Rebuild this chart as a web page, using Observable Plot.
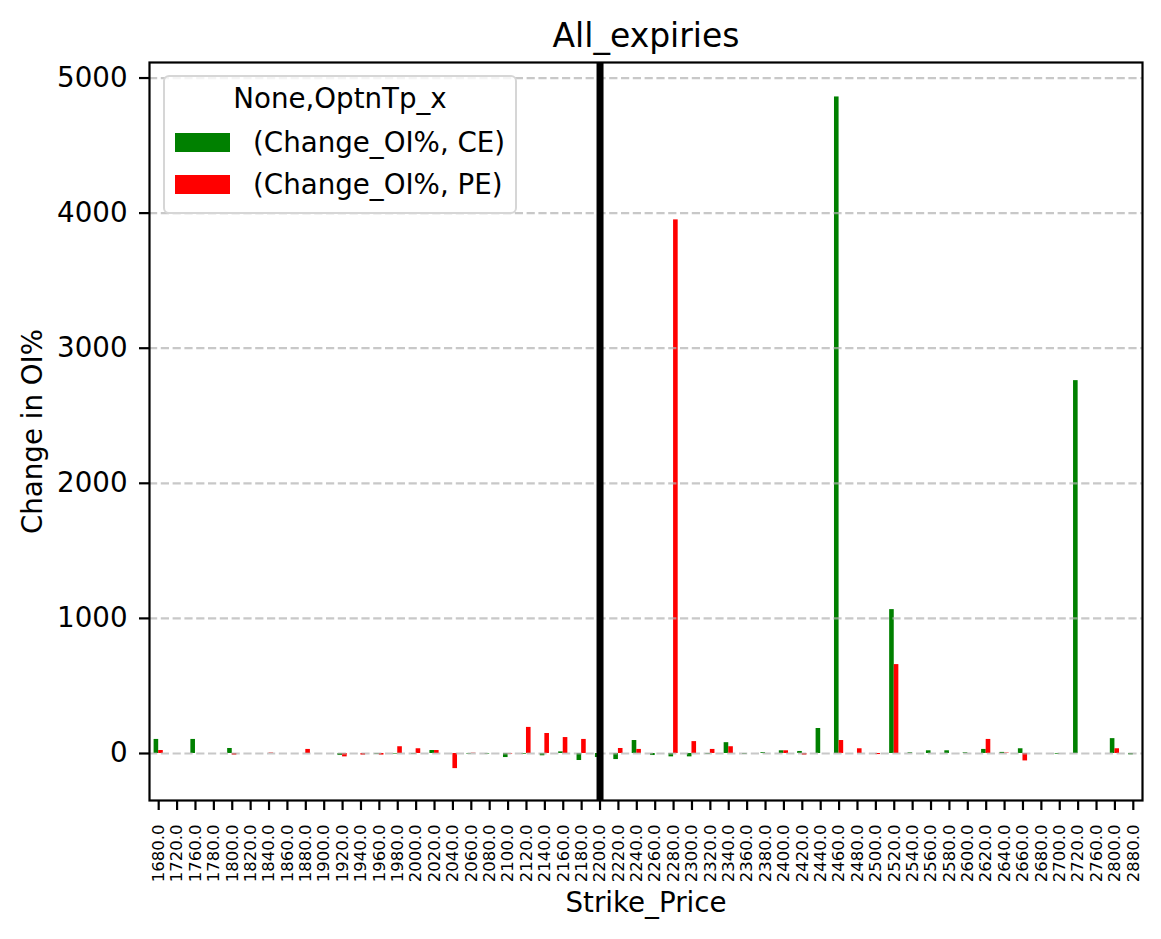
<!DOCTYPE html>
<html>
<head>
<meta charset="utf-8">
<script src="https://cdn.jsdelivr.net/npm/d3@7"></script>
<script src="https://cdn.jsdelivr.net/npm/@observablehq/plot@0.6"></script>
<style>
  body { margin: 0; background: #fff; }
  #wrap { position: relative; width: 1161px; height: 939px; font-family: "DejaVu Sans", sans-serif; }
  #wrap svg { position: absolute; left: 0; top: 0; }
  #legend { position: absolute; left: 163px; top: 75px; width: 350px; height: 135px;
            border: 2px solid #d6d6d6; border-radius: 6px; background: rgba(255,255,255,0.8); }
  #legend .t { position: absolute; line-height: 1; font-size: 27.7px; white-space: pre; color: #000; }
  #legend .sw { position: absolute; width: 55px; height: 19px; }
</style>
</head>
<body>
<div id="wrap"></div>
<script>
// ---- data ----
const strikes = [1680, 1720, 1760, 1780, 1800, 1820, 1840, 1860, 1880, 1900,
                 1920, 1940, 1960, 1980, 2000, 2020, 2040, 2060, 2080, 2100,
                 2120, 2140, 2160, 2180, 2200, 2220, 2240, 2260, 2280, 2300,
                 2320, 2340, 2360, 2380, 2400, 2420, 2440, 2460, 2480, 2500,
                 2520, 2540, 2560, 2580, 2600, 2620, 2640, 2660, 2680, 2700,
                 2720, 2760, 2800, 2880];
const ceChange = [104, null, 104, null, 37, null, 0, null, 0, null,
                  -15, 0, -5, -4, -4, 22, 0, -4, -4, -30,
                  -5, -17, 12, -52, -30, -45, 96, -15, -25, -25,
                  -5, 80, -5, 6, 20, 15, 185, 4860, 0, 0,
                  1065, 5, 20, 20, 5, 30, 8, 35, null, -5,
                  2760, null, 110, -10];
const peChange = [22, null, 0, null, -12, null, 3, null, 30, null,
                  -25, -12, -12, 50, 35, 22, -112, 2, 0, -4,
                  193, 148, 118, 104, 0, 37, 30, 0, 3950, 88,
                  30, 50, 0, 0, 20, -12, 0, 96, 35, -8,
                  658, 0, 0, 0, 0, 104, 3, -55, null, 0,
                  0, null, 35, 0];
const seriesLabels = ["(Change_OI%, CE)", "(Change_OI%, PE)"];
const seriesColors = ["green", "red"];
const legendTitle = "None,OptnTp_x";
const yTicks = [0, 1000, 2000, 3000, 4000, 5000];
const markerStrike = 2200;
const titleText = "All_expiries";
const xLabel = "Strike_Price";
const yLabel = "Change in OI%";

// ---- layout ----
const W = 1161, H = 939;
const mL = 149, mR = 19, mT = 62, mB = 139;
const bw = (W - mL - mR) / strikes.length;   // band width
const barW = bw / 4;                          // pandas: 0.5 width split in 2 series

const rows = strikes.map((s, i) => ({strike: s, ce: ceChange[i], pe: peChange[i]}));
const font = "DejaVu Sans";

const chart = Plot.plot({
  width: W, height: H,
  marginLeft: mL, marginRight: mR, marginTop: mT, marginBottom: mB,
  style: {fontFamily: font, background: "transparent", color: "black"},
  x: {type: "band", domain: strikes, paddingInner: 0, paddingOuter: 0, round: false},
  y: {domain: [-348, 5115]},
  marks: [
    Plot.barY(rows.filter(d => d.ce != null), {
      x: "strike", y: "ce", fill: seriesColors[0],
      insetLeft: bw / 2 - barW, insetRight: bw / 2
    }),
    Plot.barY(rows.filter(d => d.pe != null), {
      x: "strike", y: "pe", fill: seriesColors[1],
      insetLeft: bw / 2, insetRight: bw / 2 - barW
    }),
    Plot.gridY(yTicks, {stroke: "#b0b0b0", strokeOpacity: 0.7, strokeWidth: 2.2, strokeDasharray: "8.2,3.6"}),
    Plot.ruleX([markerStrike], {stroke: "black", strokeWidth: 7}),
    Plot.frame({stroke: "black", strokeWidth: 2.2}),
    Plot.axisY(yTicks, {tickSize: 10, tickPadding: 12, fontSize: 27.7, strokeWidth: 2.2, label: null,
                        tickFormat: d => String(d)}),
    Plot.axisX({tickRotate: -90, tickSize: 10, tickPadding: 14, fontSize: 16.5, strokeWidth: 2.2,
                tickFormat: d => d.toFixed(1), label: null}),
    Plot.text([titleText], {frameAnchor: "top", dy: -16, lineAnchor: "bottom", fontSize: 33, text: d => d}),
    Plot.text([xLabel], {frameAnchor: "bottom", dy: 111, lineAnchor: "bottom", fontSize: 27.7, text: d => d}),
    Plot.text([yLabel], {frameAnchor: "left", dx: -108, rotate: -90, textAnchor: "middle",
                         lineAnchor: "bottom", fontSize: 27.7, text: d => d})
  ]
});

const wrap = document.getElementById("wrap");
wrap.appendChild(chart);

// ---- legend (HTML overlay) ----
const leg = document.createElement("div");
leg.id = "legend";
const t = document.createElement("div");
t.className = "t";
t.textContent = legendTitle;
t.style.left = "0"; t.style.width = "100%"; t.style.textAlign = "center"; t.style.top = "8px";
leg.appendChild(t);
seriesLabels.forEach((lab, i) => {
  const sw = document.createElement("div");
  sw.className = "sw";
  sw.style.background = seriesColors[i];
  sw.style.left = "10px";
  sw.style.top = (56 + i * 42) + "px";
  leg.appendChild(sw);
  const tx = document.createElement("div");
  tx.className = "t";
  tx.textContent = lab;
  tx.style.left = "88px";
  tx.style.top = (52 + i * 42) + "px";
  leg.appendChild(tx);
});
wrap.appendChild(leg);
</script>
</body>
</html>
